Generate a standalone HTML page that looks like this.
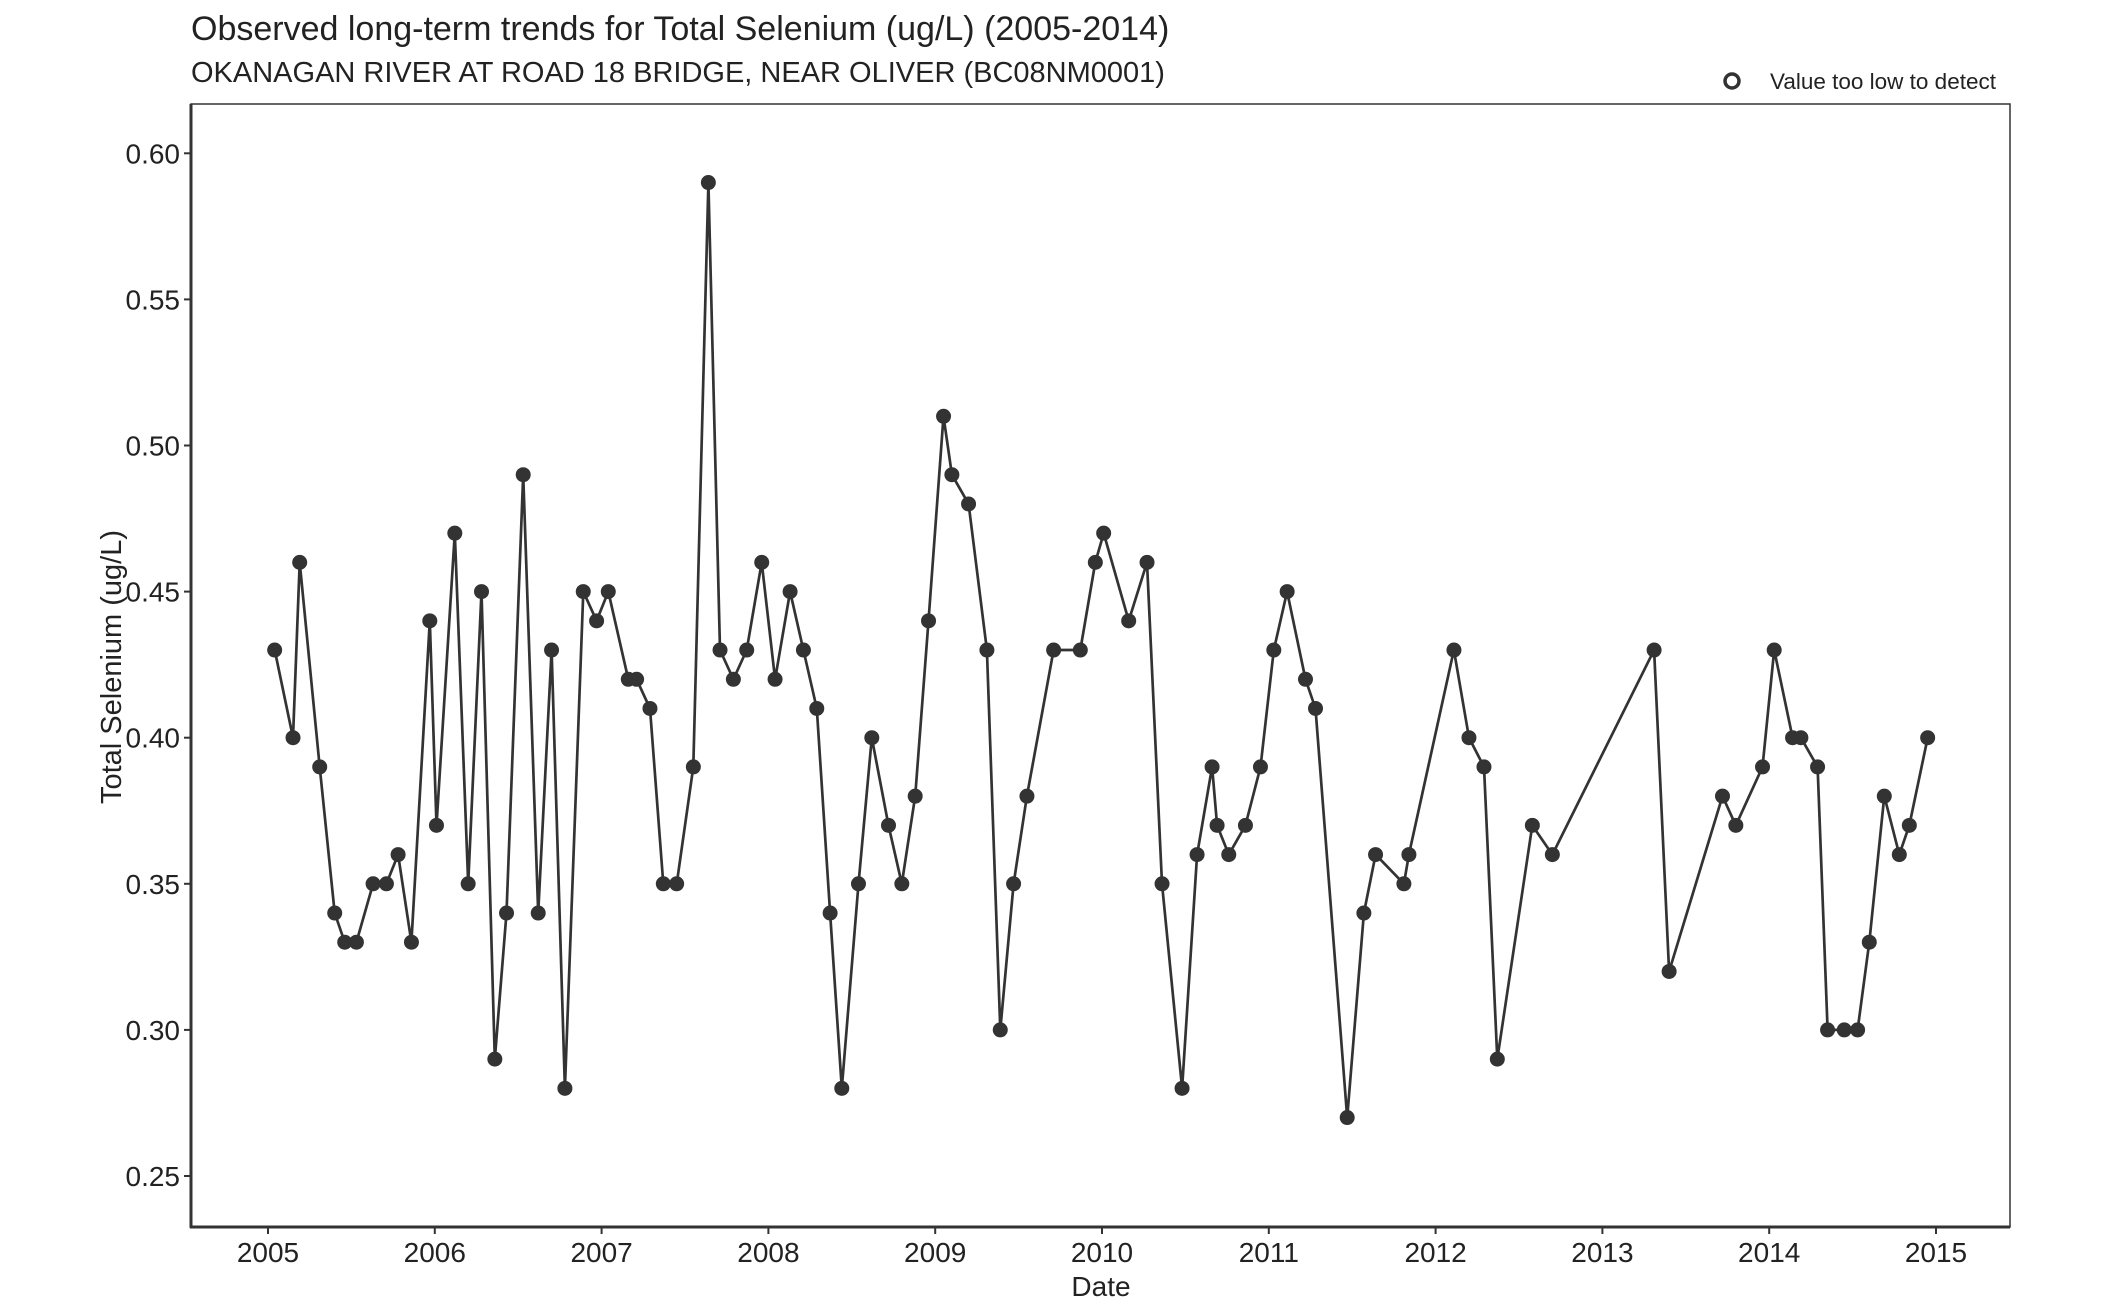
<!DOCTYPE html>
<html><head><meta charset="utf-8"><style>
html,body{margin:0;padding:0;background:#fff;}
svg{display:block;font-family:"Liberation Sans",Arial,sans-serif;}
</style></head><body>
<svg id="chart" width="2112" height="1309" viewBox="0 0 2112 1309">
<text x="191" y="40" font-size="34" fill="#222">Observed long-term trends for Total Selenium (ug/L) (2005-2014)</text>
<text x="191" y="82" font-size="29" fill="#222">OKANAGAN RIVER AT ROAD 18 BRIDGE, NEAR OLIVER (BC08NM0001)</text>
<g>
<circle cx="1732" cy="81" r="7" fill="none" stroke="#333" stroke-width="3.5"></circle>
<text x="1770" y="89" font-size="22.5" fill="#222">Value too low to detect</text>
</g>
<rect x="191" y="104" width="1819" height="1123" fill="none" stroke="#333" stroke-width="1.5"></rect>
<line x1="191" y1="104" x2="191" y2="1228" stroke="#333" stroke-width="3"></line>
<line x1="190" y1="1227" x2="2010" y2="1227" stroke="#333" stroke-width="3"></line>
<g id="yticks"></g>
<g id="xticks"></g>
<text x="1101" y="1296" font-size="28" fill="#222" text-anchor="middle">Date</text>
<text transform="translate(121,667) rotate(-90)" font-size="29" fill="#222" text-anchor="middle">Total Selenium (ug/L)</text>
<g id="series"></g>
</svg>
<script>
const dates = [2005.04,2005.15,2005.19,2005.31,2005.40,2005.46,2005.53,2005.63,2005.71,2005.78,2005.86,2005.97,2006.01,2006.12,2006.20,2006.28,2006.36,2006.43,2006.53,2006.62,2006.70,2006.78,2006.89,2006.97,2007.04,2007.16,2007.21,2007.29,2007.37,2007.45,2007.55,2007.64,2007.71,2007.79,2007.87,2007.96,2008.04,2008.13,2008.21,2008.29,2008.37,2008.44,2008.54,2008.62,2008.72,2008.80,2008.88,2008.96,2009.05,2009.10,2009.20,2009.31,2009.39,2009.47,2009.55,2009.71,2009.87,2009.96,2010.01,2010.16,2010.27,2010.36,2010.48,2010.57,2010.66,2010.69,2010.76,2010.86,2010.95,2011.03,2011.11,2011.22,2011.28,2011.47,2011.57,2011.64,2011.81,2011.84,2012.11,2012.20,2012.29,2012.37,2012.58,2012.70,2013.31,2013.40,2013.72,2013.80,2013.96,2014.03,2014.14,2014.19,2014.29,2014.35,2014.45,2014.53,2014.60,2014.69,2014.78,2014.84,2014.95];
const values = [0.43,0.40,0.46,0.39,0.34,0.33,0.33,0.35,0.35,0.36,0.33,0.44,0.37,0.47,0.35,0.45,0.29,0.34,0.49,0.34,0.43,0.28,0.45,0.44,0.45,0.42,0.42,0.41,0.35,0.35,0.39,0.59,0.43,0.42,0.43,0.46,0.42,0.45,0.43,0.41,0.34,0.28,0.35,0.40,0.37,0.35,0.38,0.44,0.51,0.49,0.48,0.43,0.30,0.35,0.38,0.43,0.43,0.46,0.47,0.44,0.46,0.35,0.28,0.36,0.39,0.37,0.36,0.37,0.39,0.43,0.45,0.42,0.41,0.27,0.34,0.36,0.35,0.36,0.43,0.40,0.39,0.29,0.37,0.36,0.43,0.32,0.38,0.37,0.39,0.43,0.40,0.40,0.39,0.30,0.30,0.30,0.33,0.38,0.36,0.37,0.40];
const yTicks = [0.25,0.30,0.35,0.40,0.45,0.50,0.55,0.60];
const yTickLabels = ["0.25","0.30","0.35","0.40","0.45","0.50","0.55","0.60"];
const xTicks = [2005,2006,2007,2008,2009,2010,2011,2012,2013,2014,2015];
const xTickLabels = ["2005","2006","2007","2008","2009","2010","2011","2012","2013","2014","2015"];

const NS = "http://www.w3.org/2000/svg";
function xScale(t){ return 268 + (t - 2005) * 166.8; }
function yScale(v){ return 1176 - (v - 0.25) / 0.05 * 146.1; }
function mk(tag, attrs, parent){ const e = document.createElementNS(NS, tag); for (const k in attrs) e.setAttribute(k, attrs[k]); parent.appendChild(e); return e; }

const yg = document.getElementById('yticks');
yTicks.forEach((v, i) => {
  const y = yScale(v);
  const tk = mk('line', {x1:184, x2:191, y1:y, y2:y, stroke:'#333', 'stroke-width':2}, yg);
  
  
  const t = mk('text', {x:180, y:y + 10, 'font-size':28, fill:'#222', 'text-anchor':'end'}, yg);
  t.textContent = yTickLabels[i];
  
  
});
const xg = document.getElementById('xticks');
xTicks.forEach((v, i) => {
  const x = xScale(v);
  const tk = mk('line', {x1:x, x2:x, y1:1227, y2:1234, stroke:'#333', 'stroke-width':2}, xg);
  
  
  const t = mk('text', {x:x, y:1262, 'font-size':28, fill:'#222', 'text-anchor':'middle'}, xg);
  t.textContent = xTickLabels[i];
  
  
});
const sg = document.getElementById('series');
const pts = dates.map((d, i) => xScale(d).toFixed(1) + ',' + yScale(values[i]).toFixed(1)).join(' ');
const line = mk('polyline', {points:pts, fill:'none', stroke:'#333', 'stroke-width':2.7, 'stroke-linejoin':'round'}, sg);


dates.forEach((d, i) => {
  const c = mk('circle', {cx:xScale(d), cy:yScale(values[i]), r:7.5, fill:'#333'}, sg);
  
  
});
</script>
</body></html>
